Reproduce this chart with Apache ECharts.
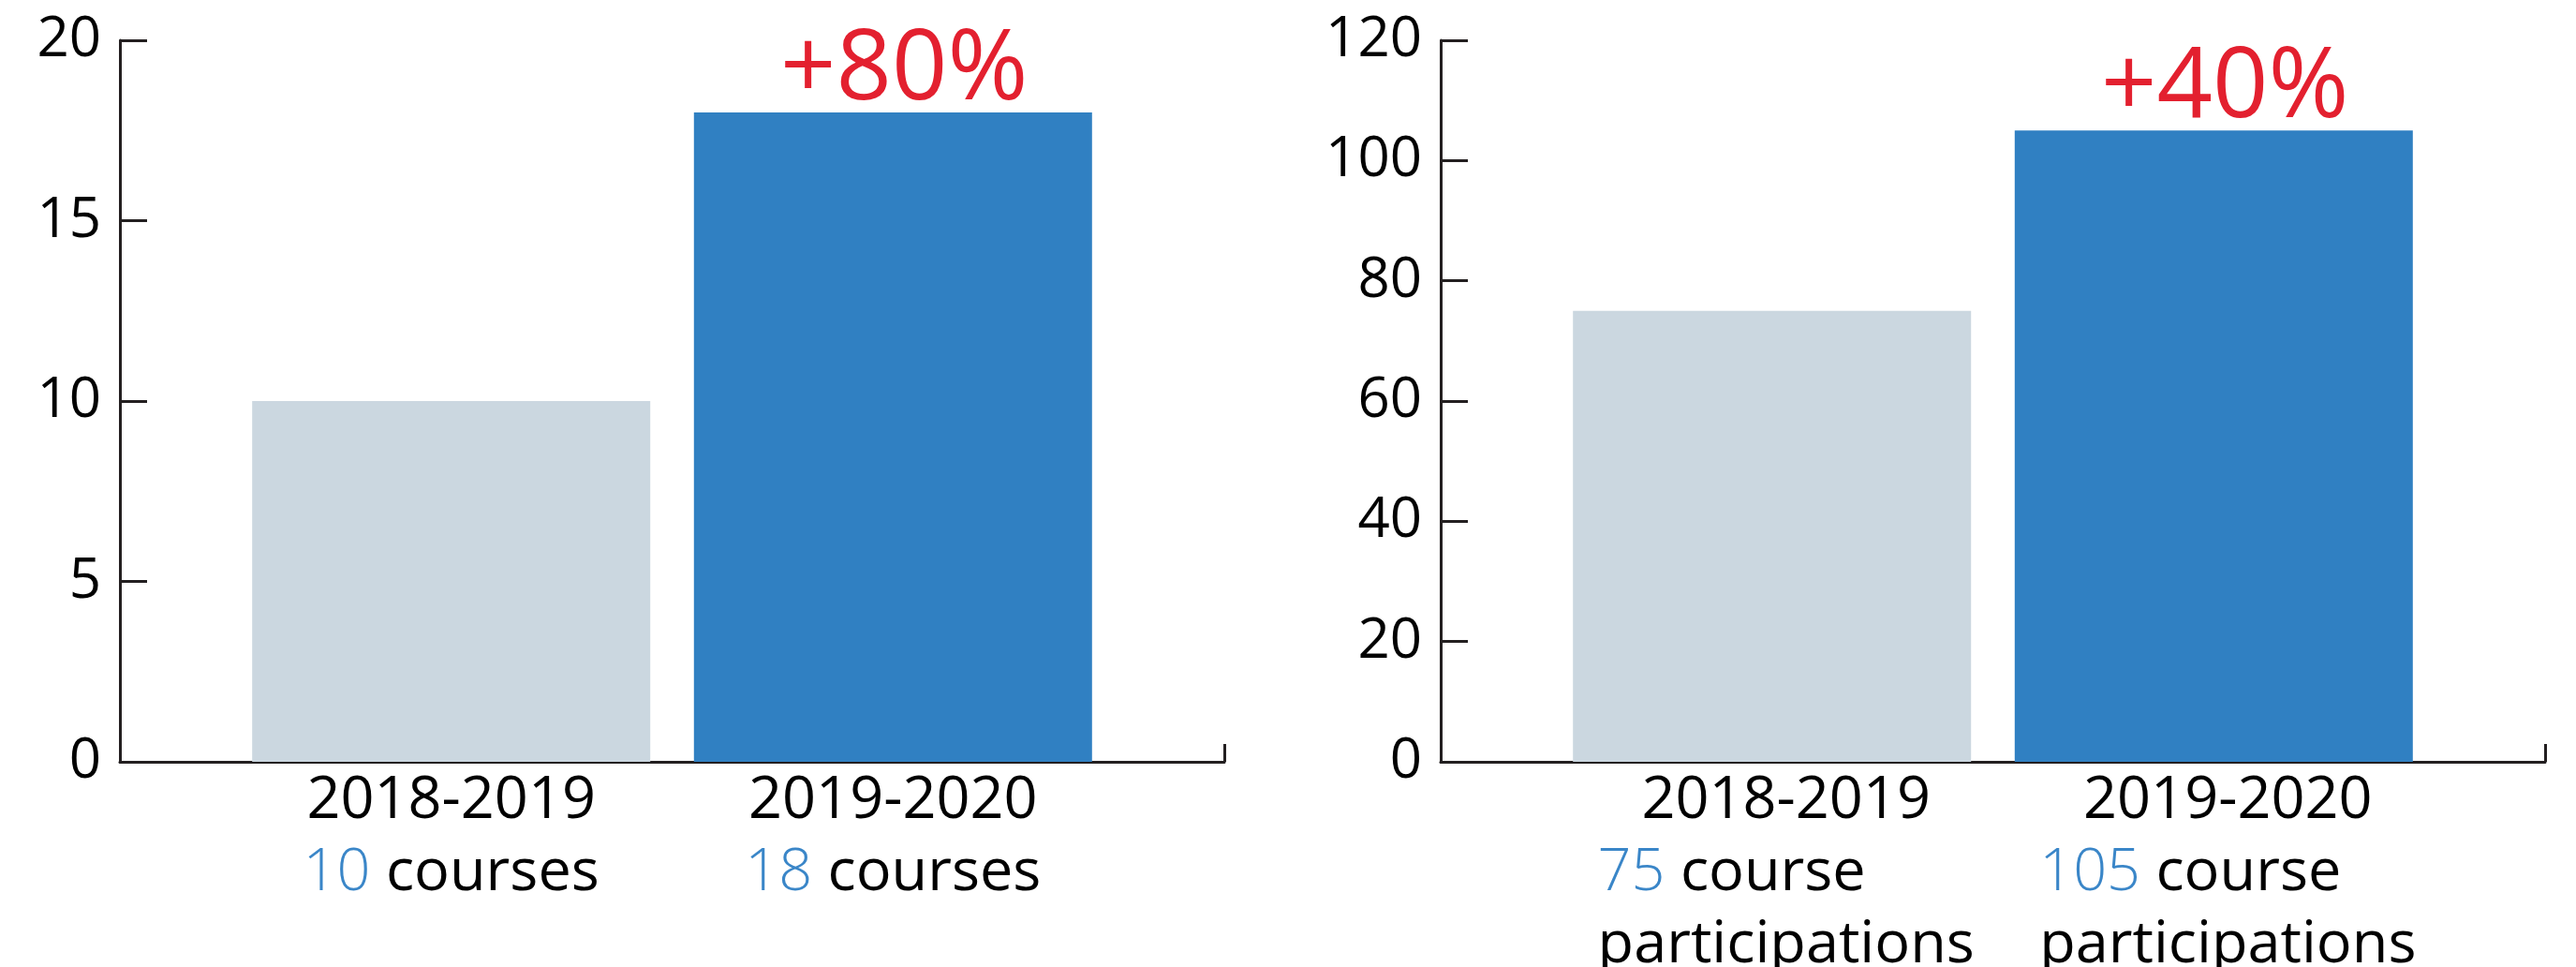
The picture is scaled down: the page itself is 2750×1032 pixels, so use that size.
<!DOCTYPE html>
<html>
<head>
<meta charset="utf-8">
<script src="https://cdn.jsdelivr.net/npm/echarts@6/dist/echarts.min.js"></script>
<style>
  html, body { margin: 0; padding: 0; background: #fff; }
  #chart { width: 2750px; height: 1032px; }
</style>
</head>
<body>
<div id="chart"></div>
<script>
// data
var seasons = ['2018-2019', '2019-2020'];
var barPos = [0.75, 1.75];          // where the bars sit on the x value axis (0..2.5)
var courses = [10, 18];
var participations = [75, 105];
var coursesGrowth = '+80%';
var participationsGrowth = '+40%';

var lightBar = '#cbd7e0';
var blueBar = '#3080c2';
var red = '#e3202f';
var numBlue = '#3a86c8';
var ink = '#231f20';
var font = '"Open Sans", "Noto Sans", sans-serif';

var chart = echarts.init(document.getElementById('chart'));

function seasonLabel(value, unit, twoLines) {
  var i = Math.round(value - barPos[0]);
  var num = unit === 'courses' ? courses[i] : participations[i];
  if (twoLines) {
    return '{h|' + seasons[i] + '}\n{n|' + num + '}{t| course}\n{t|participations}';
  }
  return '{h|' + seasons[i] + '}\n{n|' + num + '}{t| courses}';
}

function xAxisFor(gridIndex, unit, twoLines) {
  return {
    type: 'value',
    gridIndex: gridIndex,
    min: 0,
    max: 2.5,
    splitLine: { show: false },
    axisLine: { show: true, lineStyle: { color: ink, width: 3 } },
    axisTick: { show: true, inside: true, length: 19, customValues: [2.5], lineStyle: { color: ink, width: 3 } },
    axisLabel: {
      customValues: barPos,
      margin: 4,
      padding: twoLines ? [0, 0, 0, 30] : 0,
      formatter: function (v) { return seasonLabel(v, unit, twoLines); },
      rich: {
        h: { fontFamily: font, fontSize: 63, color: '#000', lineHeight: 77, align: 'center' },
        n: { fontFamily: font, fontSize: 63, color: numBlue, fontWeight: 300, lineHeight: 77, align: 'left' },
        t: { fontFamily: font, fontSize: 63, color: '#000', lineHeight: 77, align: 'left' }
      }
    }
  };
}

function yAxisFor(gridIndex, max, interval) {
  return {
    type: 'value',
    gridIndex: gridIndex,
    min: 0,
    max: max,
    interval: interval,
    splitLine: { show: false },
    axisLine: { show: true, lineStyle: { color: ink, width: 3 } },
    axisTick: { show: true, inside: true, length: 29, lineStyle: { color: ink, width: 3 } },
    axisLabel: { fontFamily: font, fontSize: 60, color: '#000', margin: 20 }
  };
}

function barSeries(idx, values, growth) {
  return {
    type: 'bar',
    xAxisIndex: idx,
    yAxisIndex: idx,
    barWidth: 425,
    data: values.map(function (v, i) {
      var item = {
        value: [barPos[i], v],
        itemStyle: { color: i === 0 ? lightBar : blueBar }
      };
      if (i === 1) {
        item.label = {
          show: true,
          position: 'top',
          distance: -8,
          offset: [12, 0],
          formatter: growth,
          fontFamily: font,
          fontSize: 104,
          color: red
        };
      }
      return item;
    })
  };
}

var option = {
  animation: false,
  backgroundColor: '#fff',
  grid: [
    { left: 128, right: 1443, top: 43, bottom: 219, outerBoundsMode: 'none' },
    { left: 1538, right: 33, top: 43, bottom: 219, outerBoundsMode: 'none' }
  ],
  xAxis: [xAxisFor(0, 'courses', false), xAxisFor(1, 'participations', true)],
  yAxis: [yAxisFor(0, 20, 5), yAxisFor(1, 120, 20)],
  series: [
    barSeries(0, courses, coursesGrowth),
    barSeries(1, participations, participationsGrowth)
  ]
};

chart.setOption(option);
</script>
</body>
</html>
